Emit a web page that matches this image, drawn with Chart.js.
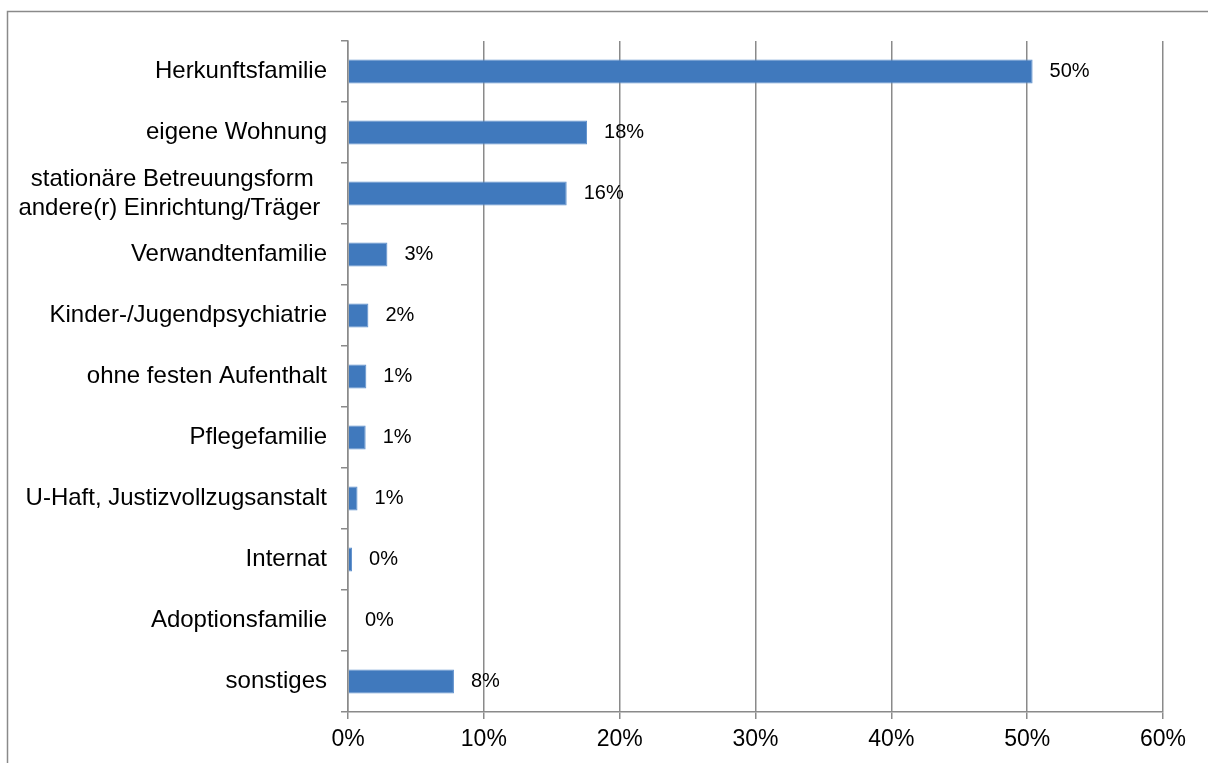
<!DOCTYPE html>
<html>
<head>
<meta charset="utf-8">
<script src="https://cdn.jsdelivr.net/npm/chart.js@4"></script>
<style>
  body { margin: 0; background: #fff; }
</style>
</head>
<body>
<canvas id="myChart" width="1208" height="763"></canvas>
<script>
// categories (top to bottom), the long one broken in two lines like the original
let categories = [
    'Herkunftsfamilie',
    'eigene Wohnung',
    ['stationäre Betreuungsform  ', 'andere(r) Einrichtung/Träger '],
    'Verwandtenfamilie',
    'Kinder-/Jugendpsychiatrie',
    'ohne festen Aufenthalt',
    'Pflegefamilie',
    'U-Haft, Justizvollzugsanstalt',
    'Internat',
    'Adoptionsfamilie',
    'sonstiges'
]
// share in percent
let shares = [50.4, 17.6, 16.1, 2.9, 1.5, 1.35, 1.3, 0.7, 0.3, 0, 7.8]
let xTicks = [0, 10, 20, 30, 40, 50, 60]

let gray = '#8a8a8a'

// outer frame + white background
let framePlugin = {
    id: 'frame',
    beforeDraw(chart) {
        let ctx = chart.ctx
        ctx.save()
        ctx.fillStyle = '#fff'
        ctx.fillRect(0, 0, chart.width, chart.height)
        ctx.strokeStyle = gray
        ctx.lineWidth = 1.5
        ctx.strokeRect(7.5, 11.5, 1300, 800)
        ctx.restore()
    }
}

// value labels right of the bars
let valueLabels = {
    id: 'valueLabels',
    afterDatasetsDraw(chart) {
        let ctx = chart.ctx
        let meta = chart.getDatasetMeta(0)
        ctx.save()
        ctx.font = '20px "Liberation Sans", Arial, sans-serif'
        ctx.fillStyle = '#000'
        ctx.textAlign = 'left'
        ctx.textBaseline = 'middle'
        meta.data.forEach(function(bar, i) {
            ctx.fillText(Math.round(shares[i]) + '%', bar.x + 17, bar.y)
        })
        ctx.restore()
    }
}

let myChart = document.querySelector('#myChart')

new Chart(myChart, {
    type: 'bar',
    data: {
        labels: categories,
        datasets: [{
            data: shares,
            backgroundColor: '#4079BD',
            borderColor: '#5d8fcc',
            borderWidth: 1,
            borderSkipped: 'left',
            barPercentage: 0.39,
            categoryPercentage: 1
        }]
    },
    options: {
        indexAxis: 'y',
        responsive: false,
        animation: false,
        layout: { padding: { left: 0, top: 41, right: 45, bottom: 0 } },
        plugins: {
            legend: { display: false },
            tooltip: { enabled: false }
        },
        scales: {
            x: {
                min: xTicks[0],
                max: xTicks[xTicks.length - 1],
                afterBuildTicks(scale) {
                    scale.ticks = xTicks.map(v => ({ value: v }))
                },
                afterFit(scale) { scale.height = 51 },
                grid: { color: gray, lineWidth: 1.5, tickLength: 7 },
                border: { color: gray, width: 1.5 },
                ticks: {
                    color: '#000',
                    padding: 7,
                    font: { family: '"Liberation Sans", Arial, sans-serif', size: 23 },
                    callback: v => v + '%'
                }
            },
            y: {
                afterFit(scale) { scale.width = 348 },
                grid: { drawOnChartArea: false, color: gray, lineWidth: 1.5, tickLength: 7 },
                border: { color: gray, width: 1.5 },
                ticks: {
                    color: '#000',
                    padding: 14,
                    autoSkip: false,
                    font: { family: '"Liberation Sans", Arial, sans-serif', size: 24, lineHeight: 1.2 }
                }
            }
        }
    },
    plugins: [framePlugin, valueLabels]
})
</script>
</body>
</html>
